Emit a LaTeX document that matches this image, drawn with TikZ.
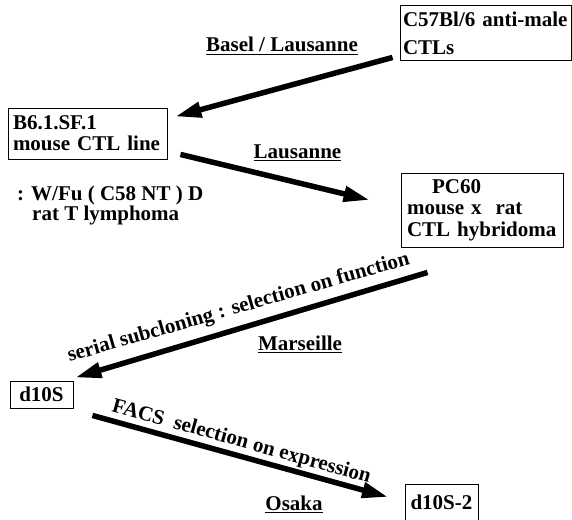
\documentclass[tikz,border=0pt]{standalone}
\usepackage{fontspec}
\setmainfont{Liberation Serif}
\usetikzlibrary{arrows.meta}
\newcommand\myul[1]{\leavevmode\vtop{\hbox{#1}\kern1.6pt\hrule height 1.2pt}}
\begin{document}
\begin{tikzpicture}[x=1pt,y=-1pt,
  every node/.style={font=\fontsize{21}{21}\selectfont\bfseries},
  cellbox/.style={draw, line width=0.9pt, align=left, inner ysep=0pt},
  flow/.style={line width=5.5pt, -{Triangle[length=26pt,width=15pt]}},
  place/.style={inner sep=0pt, anchor=base}]
\clip (0,0) rectangle (572,519);
% boxes
\node[cellbox, inner xsep=3pt, text width=165pt, minimum height=55pt] (c57) at (485.5,32.5)
  {\rule{0pt}{17pt}C57Bl/6 anti-male\\[7pt]CTLs};
\node[cellbox, inner xsep=5pt, text width=149pt, minimum height=51pt] (b6) at (87.5,133.5)
  {B6.1.SF.1\\mouse CTL line};
\node[cellbox, inner xsep=6pt, text width=150pt, minimum height=74pt] (pc) at (482,210)
  {\hspace*{25pt}PC60\\[0.5pt]mouse x\ \ rat\\[0.5pt]CTL hybridoma};
\node[cellbox, minimum width=63pt, minimum height=27pt, inner xsep=0pt] (d10) at (41.5,394.5) {d10S};
\node[cellbox, anchor=north west, inner xsep=4pt, inner ysep=10.8pt, minimum width=73pt] (d102) at (404.5,484) {d10S-2};
% labels
\node[place] (bl) at (282,52) {\myul{Basel / Lausanne}};
\node[place] (la) at (297.5,158) {\myul{Lausanne}};
\node[place] (ma) at (300,350) {\myul{Marseille}};
\node[place] (os) at (294,510) {\myul{Osaka}};
\node[place, anchor=base west] (wf) at (17,200) {: W/Fu ( C58 NT ) D};
\node[place, anchor=base west] (rt) at (32,220) {rat T lymphoma};
\node[place, rotate=16] (sc) at (240,313) {serial subcloning : selection on function};
\node[place, rotate=-15.6] (fc) at (240,447) {FACS\ \ selection on expression};
% arrows
\draw[flow] ([xshift=-7pt,yshift=3pt]c57.south west) -- ([xshift=8pt,yshift=-9pt]b6.north east);
\draw[flow] ([xshift=13pt,yshift=5pt]b6.south east) -- ([xshift=-31pt,yshift=10pt]pc.west);
\draw[flow] ([xshift=27pt,yshift=-25pt]pc.south west) -- ([xshift=2pt,yshift=3pt]d10.north east);
\draw[flow] ([xshift=19pt,yshift=-7pt]d10.south east) -- ([xshift=-16.5pt,yshift=-13pt]d102.north west);
\end{tikzpicture}
\end{document}
